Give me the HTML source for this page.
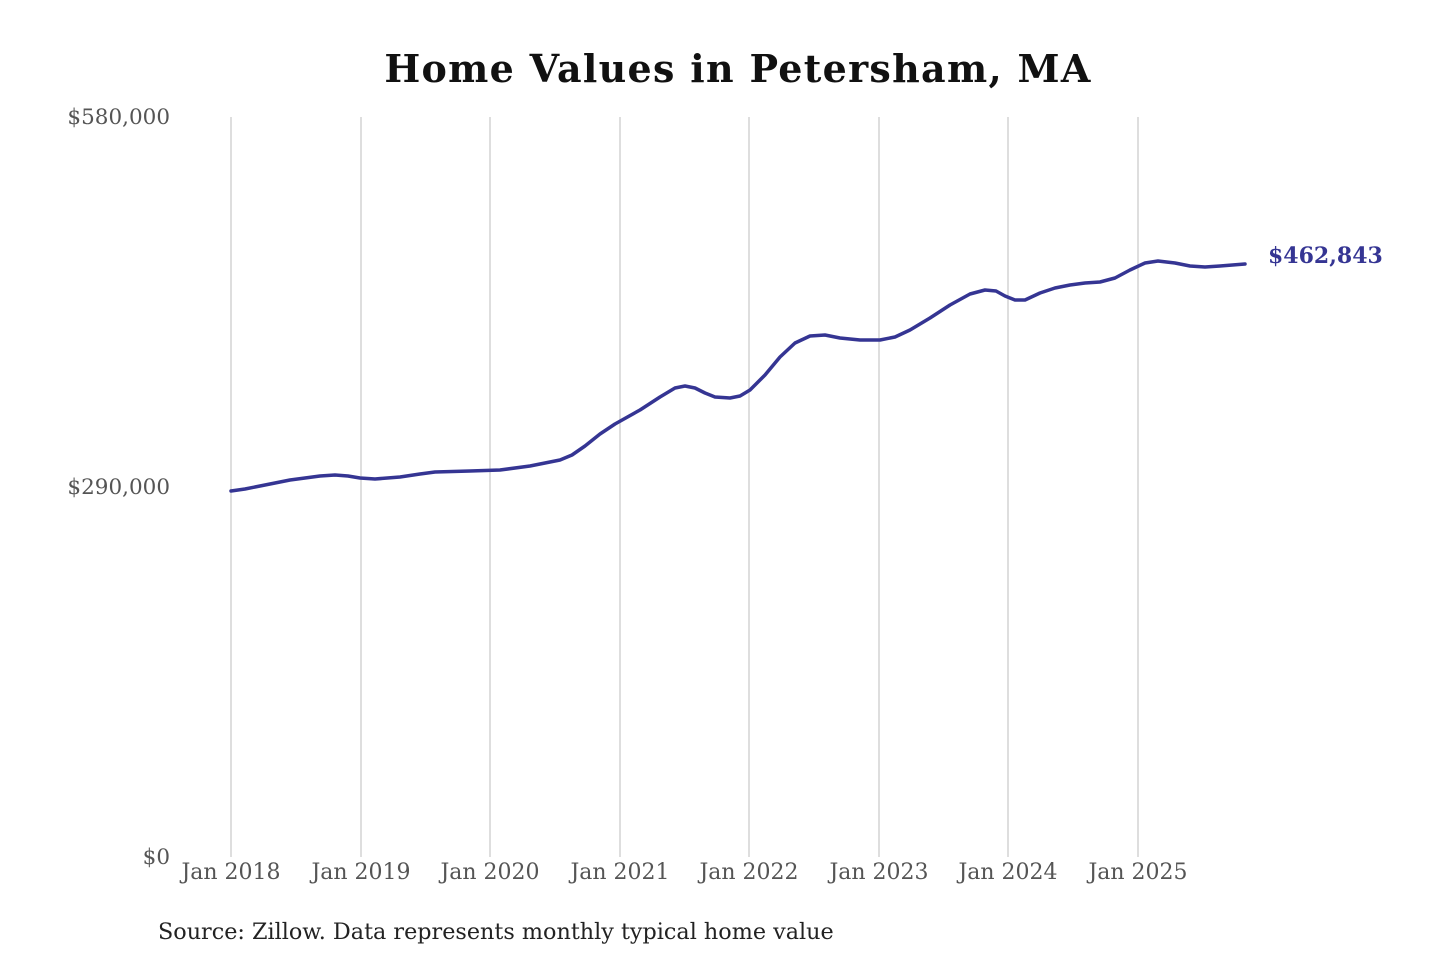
<!DOCTYPE html>
<html><head><meta charset="utf-8"><style>
body{margin:0;background:#fff;}
svg{display:block;}
</style></head><body>
<svg width="1440" height="960" viewBox="0 0 1440 960" xmlns="http://www.w3.org/2000/svg" font-family="'DejaVu Serif','Liberation Serif',serif">
<rect width="1440" height="960" fill="#fff"/>
<text x="738" y="82" text-anchor="middle" font-size="38" font-weight="bold" fill="#111" letter-spacing="1.3">Home Values in Petersham, MA</text>
<g stroke="#c8c8c8" stroke-width="1.2">
<line x1="231" y1="117" x2="231" y2="857"/>
<line x1="361" y1="117" x2="361" y2="857"/>
<line x1="490" y1="117" x2="490" y2="857"/>
<line x1="620" y1="117" x2="620" y2="857"/>
<line x1="749" y1="117" x2="749" y2="857"/>
<line x1="879" y1="117" x2="879" y2="857"/>
<line x1="1008" y1="117" x2="1008" y2="857"/>
<line x1="1138" y1="117" x2="1138" y2="857"/>
</g>
<g font-size="21.5" fill="#555" text-anchor="end">
<text x="170" y="124">$580,000</text>
<text x="170" y="494">$290,000</text>
<text x="170" y="864">$0</text>
</g>
<g font-size="22" fill="#555" text-anchor="middle">
<text x="231" y="879">Jan 2018</text>
<text x="361" y="879">Jan 2019</text>
<text x="490" y="879">Jan 2020</text>
<text x="620" y="879">Jan 2021</text>
<text x="749" y="879">Jan 2022</text>
<text x="879" y="879">Jan 2023</text>
<text x="1008" y="879">Jan 2024</text>
<text x="1138" y="879">Jan 2025</text>
</g>
<polyline fill="none" stroke="#353593" stroke-width="3.5" stroke-linejoin="round" stroke-linecap="round"
points="231,491 245,489 260,486 290,480 320,476 335,475 348,476 360,478 375,479 400,477 420,474 435,472 470,471 500,470 530,466 560,460 572,455 585,446 600,434 615,424 640,410 660,397 675,388 685,386 695,388 705,393 715,397 730,398 740,396 750,390 765,375 780,357 795,343 810,336 825,335 840,338 860,340 880,340 895,337 910,330 930,318 950,305 970,294 985,290 996,291 1005,296 1015,300 1025,300 1040,293 1055,288 1070,285 1085,283 1100,282 1115,278 1130,270 1145,263 1158,261 1175,263 1190,266 1205,267 1220,266 1245,264"/>
<text x="1268" y="263" font-size="22" font-weight="bold" fill="#353593">$462,843</text>
<text x="158" y="939" font-size="22.3" fill="#222">Source: Zillow. Data represents monthly typical home value</text>
</svg>
</body></html>
